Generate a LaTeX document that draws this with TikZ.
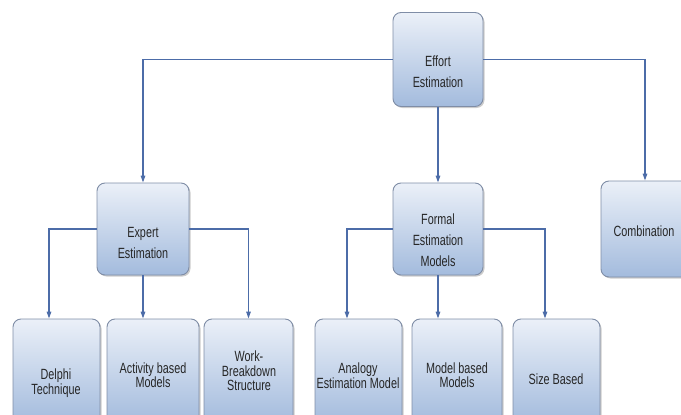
\documentclass[tikz,border=0pt]{standalone}
\usepackage{fontspec}
\setmainfont{Liberation Sans}[FakeStretch=0.73]
\usetikzlibrary{shadows,arrows.meta}
\definecolor{lnc}{HTML}{4C6CA8}
\definecolor{bdc}{HTML}{7F8DA6}
\definecolor{topc}{HTML}{EBF0F8}
\definecolor{botc}{HTML}{A3BBDD}
\tikzset{
  box/.style={draw=bdc, line width=0.9pt, rounded corners=8pt, top color=topc, bottom color=botc,
    drop shadow={shadow xshift=1.5pt, shadow yshift=-1.5pt, fill=black!40, opacity=0.5},
    inner sep=0pt},
  txt/.style={align=center, text=black!85, inner sep=0pt},
  upper/.style={txt, font=\fontsize{14.8}{21}\selectfont},
  lower/.style={txt, font=\fontsize{14.8}{14.5}\selectfont},
  conn/.style={draw=lnc, line width=1.3pt},
  arr/.style={conn, -{Triangle[length=7pt,width=4.5pt]}}
}
\begin{document}
\begin{tikzpicture}[x=1pt,y=-1pt]
\useasboundingbox (0,0) rectangle (681,415);
\clip (0,0) rectangle (681,415);
% top level
\node[box, minimum width=90pt, minimum height=94pt] (effort) at (438,59.5) {};
\node[upper] (effortT) at (438,72) {Effort\\Estimation};
% second level
\node[box, minimum width=92pt, minimum height=92pt] (expert) at (143,229) {};
\node[upper] (expertT) at (143,243) {Expert\\Estimation};
\node[box, minimum width=90pt, minimum height=92pt] (formal) at (438,229) {};
\node[upper] (formalT) at (438,240.5) {Formal\\Estimation\\Models};
\node[box, minimum width=99pt, minimum height=96pt] (comb) at (650.5,229) {};
\node[upper] (combT) at (644,231) {Combination};
% third level
\node[box, minimum width=87pt, minimum height=104pt] (delphi) at (56.5,371) {};
\node[lower] (delphiT) at (56,383) {Delphi\\Technique};
\node[box, minimum width=92pt, minimum height=104pt] (activity) at (153,371) {};
\node[lower] (activityT) at (153,375) {Activity based\\Models};
\node[box, minimum width=89pt, minimum height=104pt] (wbs) at (248.5,371) {};
\node[lower] (wbsT) at (249,371) {Work-\\Breakdown\\Structure};
\node[box, minimum width=87pt, minimum height=104pt] (analogy) at (358.5,371) {};
\node[lower] (analogyT) at (358,375.5) {Analogy\\Estimation Model};
\node[box, minimum width=90pt, minimum height=104pt] (model) at (457,371) {};
\node[lower] (modelT) at (457,375) {Model based\\Models};
\node[box, minimum width=87pt, minimum height=104pt] (size) at (556.5,371) {};
\node[lower] (sizeT) at (556,379) {Size Based};
% connectors
\draw[arr] (effort.west) -| (expert.north);
\draw[arr] (effort.east) -| ([xshift=-5.5pt]comb.north);
\draw[arr] (effort.south) -- (formal.north);
\draw[arr] (expert.west) -| ([xshift=-7.5pt]delphi.north);
\draw[arr] (expert.east) -| (wbs.north);
\draw[arr] (expert.south) -- ([xshift=-10pt]activity.north);
\draw[arr] (formal.west) -| ([xshift=-11.5pt]analogy.north);
\draw[arr] (formal.east) -| ([xshift=-11.5pt]size.north);
\draw[arr] (formal.south) -- (model.north -| formal.south);
\end{tikzpicture}
\end{document}
